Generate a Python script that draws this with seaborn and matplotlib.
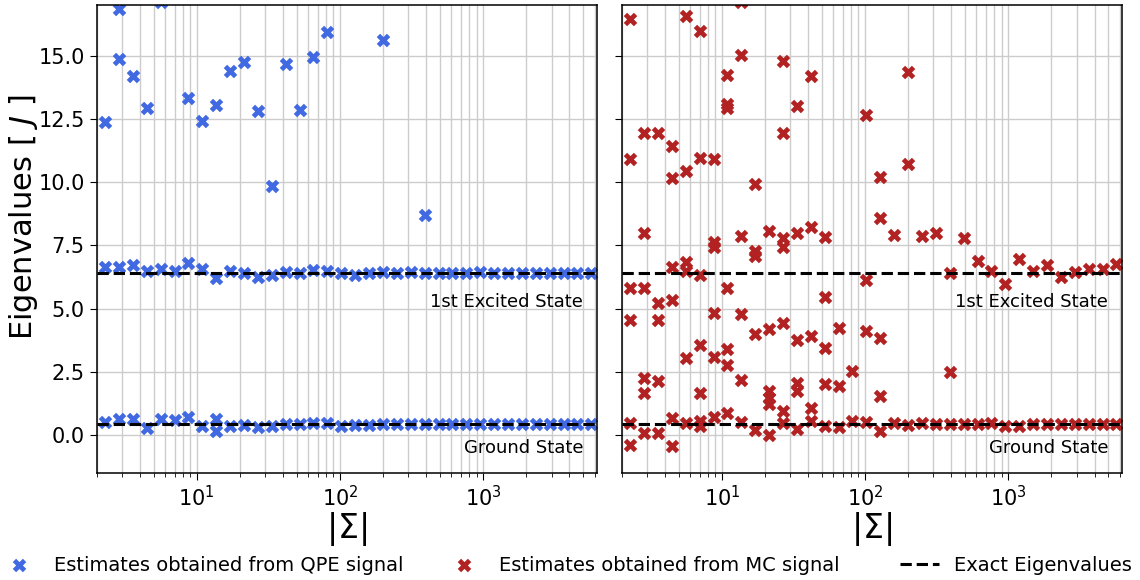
import matplotlib
matplotlib.use("Agg")
import matplotlib.pyplot as plt
import matplotlib.ticker as mticker
import matplotlib.transforms as mtransforms
import numpy as np
import pandas as pd
import seaborn as sns

# |Sigma| values shared by both panels
sigma = [2.29, 2.86, 3.58, 4.48, 5.60, 7.00, 8.75, 10.9, 13.7, 17.1,
         21.4, 26.7, 33.4, 41.8, 52.2, 65.3, 81.7, 102, 128, 160,
         200, 249, 312, 390, 488, 610, 762, 953, 1190, 1490,
         1862, 2328, 2911, 3639, 4550, 5689]

ground_exact = 0.43
excited_exact = 6.42

# QPE signal: one ground and one excited estimate per |Sigma|
qpe_ground = [0.52, 0.65, 0.65, 0.28, 0.65, 0.61, 0.70, 0.35, 0.65, 0.35,
              0.39, 0.31, 0.35, 0.44, 0.44, 0.48, 0.47, 0.35, 0.40, 0.41,
              0.42, 0.42, 0.42, 0.42, 0.42, 0.43, 0.42, 0.42, 0.42, 0.42,
              0.42, 0.42, 0.42, 0.42, 0.42, 0.42]
qpe_excited = [6.65, 6.65, 6.72, 6.47, 6.56, 6.47, 6.79, 6.56, 6.21, 6.47,
               6.39, 6.26, 6.34, 6.43, 6.39, 6.52, 6.50, 6.39, 6.33, 6.42,
               6.44, 6.42, 6.43, 6.42, 6.42, 6.41, 6.42, 6.43, 6.42, 6.42,
               6.42, 6.42, 6.42, 6.42, 6.42, 6.41]
# further QPE estimates: index into sigma, value
qpe_other_idx = [0, 1, 1, 2, 3, 4, 6, 7, 8, 8, 9, 10, 11, 12, 13, 14, 15, 16, 20, 23]
qpe_other_val = [12.38, 16.84, 14.86, 14.19, 12.94, 17.10, 13.31, 12.42, 13.04, 0.17,
                 14.40, 14.75, 12.82, 9.84, 14.67, 12.85, 14.96, 15.94, 15.62, 8.71]

# MC signal: all estimates for each |Sigma|
mc_estimates = [
    [16.46, 10.90, 5.81, 4.54, 0.48, -0.38],
    [11.94, 7.99, 5.81, 2.26, 1.67, 0.08],
    [11.94, 5.20, 4.54, 2.13, 0.08],
    [11.43, 10.16, 6.65, 5.33, 0.67, -0.45],
    [16.55, 10.42, 6.83, 6.50, 3.06, 0.48],
    [15.98, 10.97, 6.34, 3.56, 1.67, 0.54, 0.35],
    [10.90, 7.62, 7.42, 4.84, 3.08, 0.70],
    [14.23, 13.08, 12.91, 5.81, 3.39, 2.77, 0.87],
    [17.10, 15.03, 7.87, 4.78, 2.16, 0.52],
    [9.94, 7.26, 7.09, 3.98, 0.19],
    [8.08, 4.21, 1.76, 1.47, 1.23, 0.02],
    [14.80, 11.92, 7.77, 7.42, 4.44, 0.94, 0.48],
    [13.00, 7.99, 3.75, 2.06, 1.76, 0.25],
    [14.19, 8.24, 3.92, 1.05, 0.54],
    [7.82, 5.46, 3.43, 2.02, 0.35],
    [4.22, 1.93, 0.31],
    [2.53, 0.57],
    [12.67, 6.13, 4.10, 0.52],
    [10.20, 8.57, 3.85, 1.54, 0.15],
    [7.92, 0.48],
    [14.37, 10.70, 0.38],
    [7.85, 0.48],
    [7.99, 0.44],
    [6.39, 2.50, 0.44],
    [7.79, 0.44],
    [6.89, 0.44],
    [6.50, 0.48],
    [5.99, 0.35],
    [6.96, 0.35],
    [6.50, 0.44],
    [6.73, 0.42],
    [6.23, 0.42],
    [6.43, 0.42],
    [6.56, 0.44],
    [6.56, 0.42],
    [6.76, 0.44],
]

qpe = pd.DataFrame({
    "sigma": sigma + sigma + [sigma[i] for i in qpe_other_idx],
    "value": qpe_ground + qpe_excited + qpe_other_val,
})
mc = pd.DataFrame(
    [(sigma[i], v) for i, vals in enumerate(mc_estimates) for v in vals],
    columns=["sigma", "value"],
)

sns.set_style("ticks")
plt.rcParams["font.family"] = ["DejaVu Sans"]
for key in ["text.color", "axes.labelcolor", "xtick.color", "ytick.color", "axes.edgecolor"]:
    plt.rcParams[key] = "black"

fig, axes = plt.subplots(1, 2, figsize=(11.4, 5.8), dpi=100, sharey=True)
fig.subplots_adjust(left=0.0848, right=0.984, top=0.9914, bottom=0.1845, wspace=0.05)

panels = [
    (axes[0], qpe, "royalblue", "Estimates obtained from QPE signal"),
    (axes[1], mc, "firebrick", "Estimates obtained from MC signal   "),
]
for ax, df, color, label in panels:
    sns.scatterplot(data=df, x="sigma", y="value", marker="X", s=95, color=color,
                    linewidth=0, ax=ax, legend=False, label=label, zorder=2)
    for k, yv in enumerate([ground_exact, excited_exact]):
        ax.axhline(yv, color="black", ls="--", lw=2.2, zorder=3,
                   label="Exact Eigenvalues" if k == 0 else None)
    ax.set_xscale("log")
    ax.set_xlim(2, 6200)
    ax.set_ylim(-1.5, 17)
    ax.set_yticks(np.arange(0, 15.1, 2.5))
    ax.yaxis.set_major_formatter(mticker.FormatStrFormatter("%.1f"))
    ax.set_axisbelow(True)
    ax.grid(True, which="both", axis="x", color="0.8", lw=1)
    ax.grid(True, which="major", axis="y", color="0.8", lw=1)
    ax.tick_params(axis="both", which="major", labelsize=15, direction="out", length=5)
    ax.tick_params(axis="x", which="minor", length=3)
    for sp in ax.spines.values():
        sp.set_linewidth(1.1)
    ax.set_xlabel(r"$|\Sigma|$", fontsize=24, labelpad=0)
    ax.set_ylabel("")
    trans = mtransforms.blended_transform_factory(ax.transAxes, ax.transData)
    ax.text(0.973, 5.27, "1st Excited State", transform=trans, ha="right",
            va="center", fontsize=13)
    ax.text(0.973, -0.53, "Ground State", transform=trans, ha="right",
            va="center", fontsize=13)

axes[0].set_ylabel("Eigenvalues [ $J$ ]", fontsize=22, labelpad=-1)
axes[0].yaxis.label.set_y(0.547)

h0, l0 = axes[0].get_legend_handles_labels()
h1, l1 = axes[1].get_legend_handles_labels()
handles = [h0[0], h1[0], h0[1]]
labels = [l0[0], l1[0], l0[1]]
fig.legend(handles, labels, loc="lower center", ncol=3, mode="expand",
           bbox_to_anchor=(-0.0068, -0.004, 1.0067, 0.1), frameon=False,
           fontsize=14, borderaxespad=0)

fig.savefig("out.png", dpi=100)
